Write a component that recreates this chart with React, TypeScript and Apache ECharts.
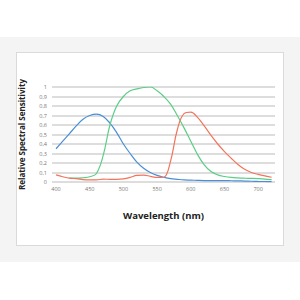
import React, { useEffect, useRef } from "react";
import * as echarts from "echarts";

const wavelengths = [400, 410, 420, 430, 440, 450, 460, 470, 480, 490, 500, 510, 520, 530, 540, 550, 560, 570, 580, 590, 600, 610, 620, 630, 640, 650, 660, 670, 680, 690, 700, 710, 720];

const blueValues = [0.35, 0.43, 0.51, 0.59, 0.66, 0.7, 0.715, 0.69, 0.62, 0.52, 0.4, 0.3, 0.21, 0.145, 0.1, 0.07, 0.05, 0.035, 0.028, 0.022, 0.02, 0.017, 0.015, 0.015, 0.015, 0.015, 0.013, 0.012, 0.01, 0.008, 0.006, 0.005, 0.004];

const greenValues = [null, null, 0.04, 0.04, 0.045, 0.055, 0.09, 0.28, 0.6, 0.8, 0.9, 0.96, 0.98, 0.995, 1.0, 0.96, 0.9, 0.82, 0.7, 0.57, 0.43, 0.29, 0.18, 0.11, 0.075, 0.058, 0.048, 0.043, 0.04, 0.038, 0.035, 0.03, 0.025];

const redValues = [0.075, 0.055, 0.04, 0.035, 0.025, 0.022, 0.022, 0.03, 0.028, 0.027, 0.032, 0.048, 0.07, 0.072, 0.06, 0.048, 0.05, 0.22, 0.55, 0.72, 0.735, 0.68, 0.59, 0.49, 0.4, 0.32, 0.25, 0.185, 0.135, 0.1, 0.08, 0.065, 0.05];

const xTickLabels = [400, 450, 500, 550, 600, 650, 700];

const pair = (vals: (number | null)[]) =>
  wavelengths.map((w, i) => (vals[i] == null ? null : [w, vals[i]])).filter((d) => d !== null);

export default function App() {
  const ref = useRef<HTMLDivElement>(null);
  useEffect(() => {
    if (!ref.current) return;
    const chart = echarts.init(ref.current, null, { renderer: "svg" });
    const font = "'Open Sans', 'DejaVu Sans', sans-serif";
    chart.setOption({
      animation: false,
      grid: { left: 52, right: 25, top: 87, bottom: 118, containLabel: false },
      xAxis: {
        type: "value",
        min: 394,
        max: 725,
        name: "Wavelength (nm)",
        nameLocation: "middle",
        nameGap: 28,
        nameTextStyle: { fontFamily: font, fontWeight: "bold", fontSize: 9.5, color: "#222" },
        axisLine: { show: false },
        axisTick: { show: false },
        splitLine: { show: false },
        axisLabel: {
          customValues: xTickLabels,
          fontFamily: font,
          fontSize: 5.5,
          color: "#777",
          margin: 4,
        },
      },
      yAxis: {
        type: "value",
        min: 0,
        max: 1,
        interval: 0.1,
        name: "Relative Spectral Sensitivity",
        nameLocation: "middle",
        nameGap: 27,
        nameRotate: 90,
        nameTextStyle: { fontFamily: font, fontWeight: "bold", fontSize: 8, color: "#222" },
        axisLine: { show: false },
        axisTick: { show: false },
        splitLine: { show: true, lineStyle: { color: "#d2d2d2", width: 1.6 } },
        axisLabel: {
          fontFamily: font,
          fontSize: 5.5,
          color: "#777",
          margin: 5,
          formatter: (v: number) => String(Math.round(v * 10) / 10).replace(".", ","),
        },
      },
      series: [
        {
          type: "line",
          data: pair(blueValues),
          smooth: 0.4,
          showSymbol: false,
          lineStyle: { color: "#4a8fd6", width: 1.2 },
        },
        {
          type: "line",
          data: pair(greenValues),
          smooth: 0.4,
          showSymbol: false,
          lineStyle: { color: "#5ccd86", width: 1.2 },
        },
        {
          type: "line",
          data: pair(redValues),
          smooth: 0.4,
          showSymbol: false,
          lineStyle: { color: "#f2745e", width: 1.2 },
        },
      ],
    });
    return () => chart.dispose();
  }, []);
  return (
    <div style={{ position: "fixed", left: 0, top: 0, width: 300, height: 300, background: "#fff" }}>
      <div style={{ position: "absolute", left: 0, top: 37, width: 300, height: 225, background: "#f4f4f4" }} />
      <div
        style={{
          position: "absolute",
          left: 16,
          top: 52,
          width: 266,
          height: 192,
          background: "#fff",
          border: "1px solid #dadada",
        }}
      />
      <div ref={ref} style={{ position: "absolute", left: 0, top: 0, width: 300, height: 300 }} />
    </div>
  );
}
